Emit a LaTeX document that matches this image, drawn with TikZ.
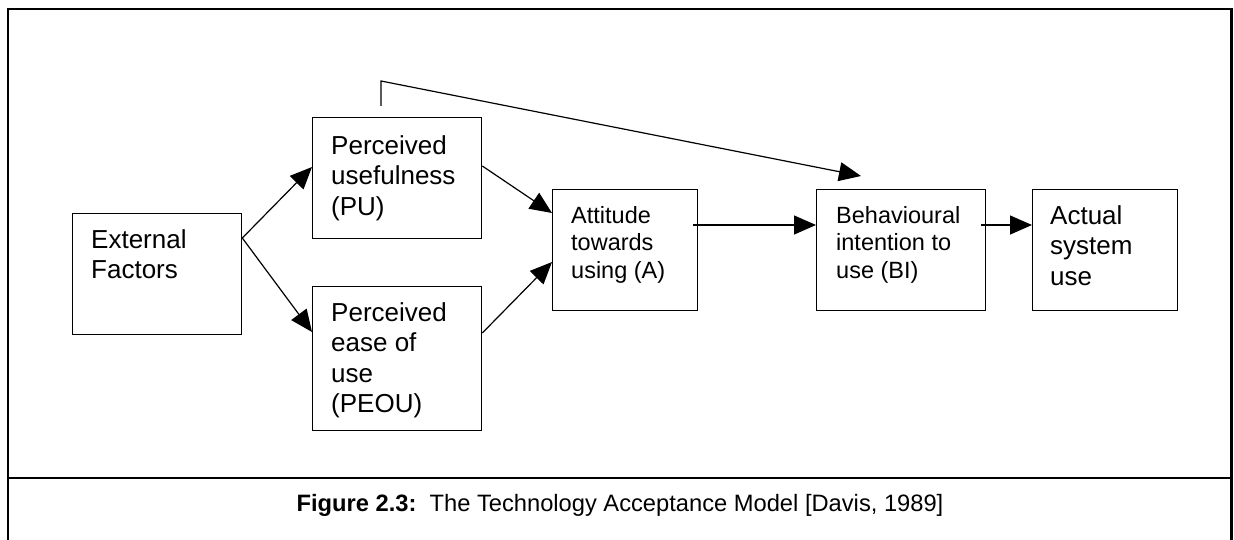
\documentclass[tikz,border=0pt]{standalone}
\usepackage{fontspec}
\setmainfont{Liberation Sans}
\usetikzlibrary{arrows.meta,calc}

\tikzset{
  box/.style={draw, line width=1.3pt, rectangle, inner sep=0pt, anchor=north west,
    minimum width=169pt, minimum height=121pt},
  narrow/.style={minimum width=145pt},
  lbl/.style={inner sep=0pt, anchor=north west, align=left,
    font=\fontsize{26pt}{30.5pt}\selectfont},
  lblsmall/.style={inner sep=0pt, anchor=north west, align=left,
    font=\fontsize{23.5pt}{27.5pt}\selectfont},
  link/.style={line width=1.2pt, -{Triangle[length=22pt,width=19pt]}},
  frameline/.style={line width=2.6pt},
}
\newcommand{\firstline}{\rule{0pt}{22pt}}

\begin{document}
\begin{tikzpicture}[x=1pt, y=-1pt]
\useasboundingbox (0,0) rectangle (1234,540);

% outer frame and caption separator
\draw[frameline] (8,540) |- (1231.5,9) -- (1231.5,540);
\draw[frameline] (8,478) -- (1231.5,478);

% boxes
\node[box] (ext) at (72,213) {};
\node[box] (pu) at (312,117) {};
\node[box, minimum height=144pt] (peou) at (312,286) {};
\node[box, narrow] (att) at (552,189) {};
\node[box] (bi) at (816,189) {};
\node[box, narrow] (asu) at (1032,189) {};

% box texts (first baseline 22pt below the node top)
\node[lbl] (ext-t) at ($(ext.north west)+(19,13)$) {\firstline External\\Factors};
\node[lbl] (pu-t) at ($(pu.north west)+(19,15)$) {\firstline Perceived\\usefulness\\(PU)};
\node[lbl] (peou-t) at ($(peou.north west)+(19,13)$) {\firstline Perceived\\ease of\\use\\(PEOU)};
\node[lblsmall] (att-t) at ($(att.north west)+(19,12)$) {\firstline Attitude\\towards\\using (A)};
\node[lblsmall] (bi-t) at ($(bi.north west)+(20,12)$) {\firstline Behavioural\\intention to\\use (BI)};
\node[lbl] (asu-t) at ($(asu.north west)+(18,13)$) {\firstline Actual\\system\\use};

% connectors
\draw[link] ($(ext.north east)+(0,25)$) -- ($(pu.north west)+(0,50)$);
\draw[link] ($(ext.north east)+(0,25)$) -- ($(peou.north west)+(0,46)$);
\draw[link] ($(pu.north east)+(0,49)$) -- ($(att.north west)+(0,24)$);
\draw[link] ($(peou.north east)+(0,47)$) -- ($(att.north west)+(0,73)$);
\draw[link] ($(att.north east)+(-5,36)$) -- ($(bi.north west)+(0,36)$);
\draw[link] ($(bi.north east)+(-5,36)$) -- ($(asu.north west)+(0,36)$);

% direct path from usefulness to intention
\coordinate (fb-start) at ($(pu.north west)+(69,-11)$);
\coordinate (fb-end) at ($(bi.north west)+(45,-13)$);
\draw[link] (fb-start) -- ++(0,-25) -- (fb-end);

% caption
\node[inner sep=0pt, anchor=base, font=\fontsize{23.7pt}{28pt}\selectfont] (caption) at (620,511)
  {\textbf{Figure 2.3:}\ \ The Technology Acceptance Model [Davis, 1989]};
\end{tikzpicture}
\end{document}
